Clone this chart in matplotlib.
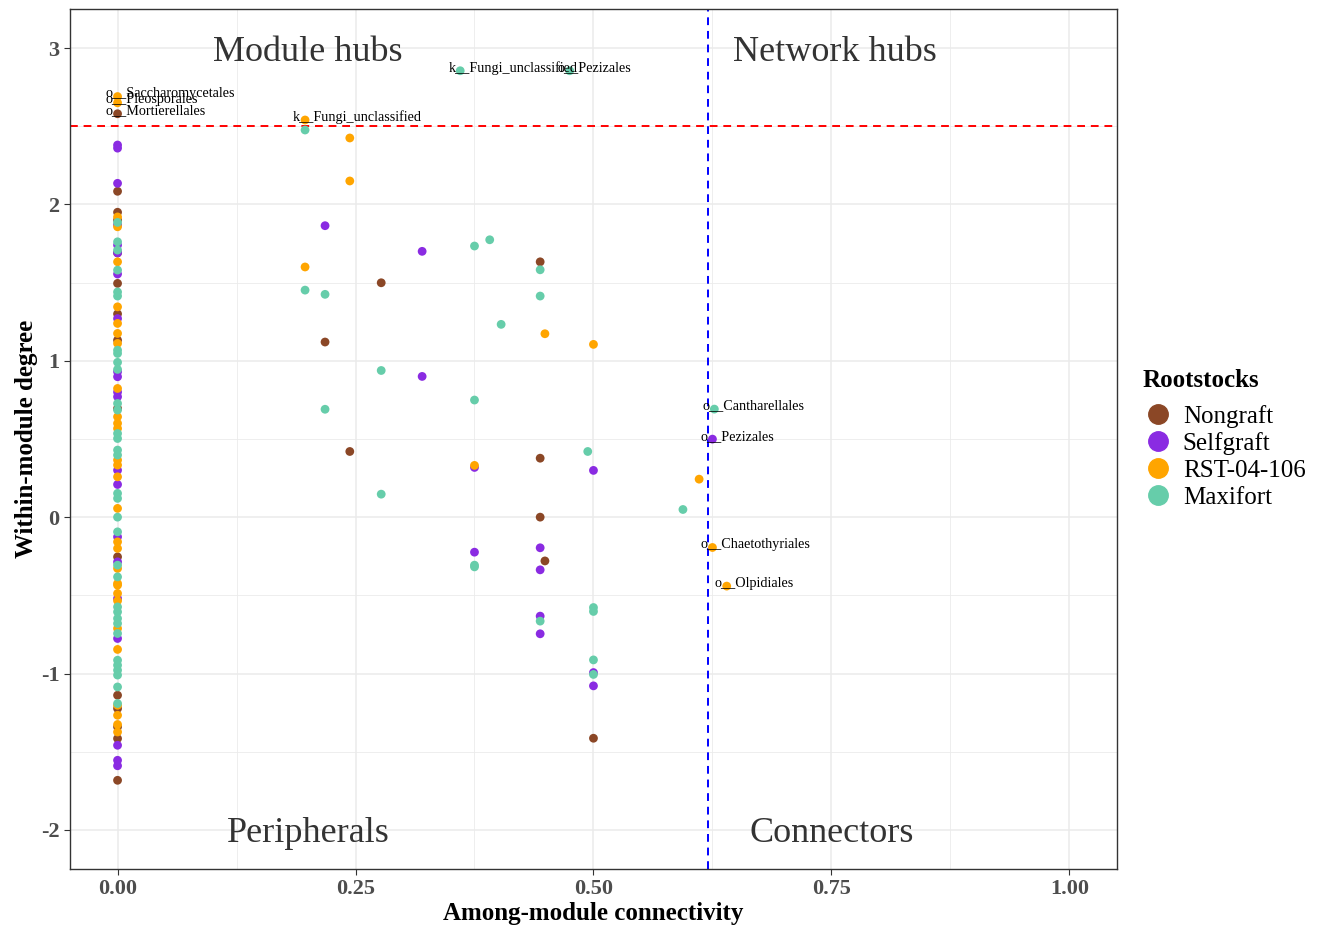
import matplotlib
matplotlib.use('Agg')
import matplotlib.pyplot as plt
from matplotlib.lines import Line2D
from matplotlib.ticker import MultipleLocator

plt.rcParams['font.family'] = ['Liberation Serif', 'DejaVu Serif']

# Among-module connectivity (Pi) / within-module degree (Zi) per rootstock
nongraft_x = [0, 0, 0, 0, 0, 0, 0, 0, 0, 0, 0, 0, 0, 0, 0,
              0.277, 0.218, 0.244, 0.444, 0.444, 0.444, 0.449, 0.5]
nongraft_y = [2.58, 2.084, 1.95, 1.90, 1.495, 1.30, 1.132, 0.695, -0.254, -1.139, -1.224, -1.341, -1.416, -1.683, 1.69,
              1.499, 1.12, 0.42, 1.633, 0.377, 0.0, -0.28, -1.414]

selfgraft_x = [0, 0, 0, 0, 0, 0, 0, 0, 0, 0, 0, 0, 0, 0, 0, 0, 0, 0, 0, 0, 0,
               0.218, 0.32, 0.32, 0.375, 0.375, 0.444, 0.444, 0.444, 0.444, 0.5, 0.5, 0.5, 0.625]
selfgraft_y = [2.38, 2.36, 2.135, 1.87, 1.74, 1.69, 1.555, 1.27, 0.93, 0.898, 0.80, 0.77, 0.30, 0.209, -0.126,
               -0.286, -0.52, -0.776, -1.459, -1.555, -1.59,
               1.864, 1.70, 0.90, 0.318, -0.224, -0.196, -0.337, -0.633, -0.746, 0.299, -0.994, -1.079, 0.499]

rst_x = [0, 0, 0, 0, 0, 0, 0, 0, 0, 0, 0, 0, 0, 0, 0, 0, 0, 0, 0, 0, 0, 0, 0, 0, 0, 0, 0, 0, 0, 0,
         0.197, 0.244, 0.244, 0.197, 0.449, 0.5, 0.375, 0.611, 0.625, 0.64]
rst_y = [2.69, 2.65, 1.92, 1.857, 1.633, 1.345, 1.239, 1.175, 1.111, 0.823, 0.642, 0.60, 0.567, 0.365, 0.333,
         0.258, 0.056, -0.158, -0.2, -0.328, -0.424, -0.435, -0.488, -0.535, -0.712, -0.846, -1.203, -1.267,
         -1.326, -1.374,
         2.54, 2.425, 2.15, 1.60, 1.173, 1.105, 0.331, 0.243, -0.194, -0.441]

maxifort_x = [0] * 33 + [0.197, 0.36, 0.475, 0.218, 0.197, 0.375, 0.391, 0.444, 0.444, 0.403, 0.277, 0.218,
                         0.375, 0.494, 0.277, 0.375, 0.375, 0.444, 0.5, 0.5, 0.5, 0.5, 0.627, 0.594]
maxifort_y = [1.885, 1.761, 1.708, 1.58, 1.44, 1.414, 1.068, 1.047, 0.99, 0.945, 0.727, 0.685, 0.535, 0.503,
              0.429, 0.397, 0.152, 0.12, 0.0, -0.094, -0.307, -0.382, -0.574, -0.606, -0.648, -0.68, -0.744,
              -0.915, -0.947, -0.979, -1.01, -1.086, -1.192,
              2.476, 2.855, 2.855, 1.425, 1.452, 1.734, 1.774, 1.582, 1.414, 1.233, 0.938, 0.69,
              0.749, 0.42, 0.147, -0.307, -0.318, -0.665, -0.578, -0.603, -0.913, -1.006, 0.691, 0.049]

groups = ['Nongraft', 'Selfgraft', 'RST-04-106', 'Maxifort']
colors = ['#8B4726', '#8A2BE2', '#FFA500', '#66CDAA']

# labelled taxa
label_x = [0, 0, 0, 0.197, 0.36, 0.475, 0.627, 0.625, 0.625, 0.64]
label_y = [2.69, 2.65, 2.58, 2.54, 2.855, 2.855, 0.691, 0.499, -0.194, -0.441]
label_txt = ['o__Saccharomycetales', 'o__Pleosporales', 'o__Mortierellales', 'k__Fungi_unclassified',
             'k__Fungi_unclassified', 'o__Pezizales', 'o__Cantharellales', 'o__Pezizales',
             'o__Chaetothyriales', 'o__Olpidiales']

zi_cut = 2.5
pi_cut = 0.62

fig = plt.figure(figsize=(13.25, 9.26), dpi=100)
ax = fig.add_axes([0.0528, 0.0616, 0.7902, 0.9287])

xs = [nongraft_x, selfgraft_x, rst_x, maxifort_x]
ys = [nongraft_y, selfgraft_y, rst_y, maxifort_y]
for gx, gy, c in zip(xs, ys, colors):
    ax.scatter(gx, gy, s=40, color=c, edgecolors='none', zorder=3)

ax.axhline(zi_cut, color='red', linestyle=(0, (4, 3)), linewidth=1.4, zorder=2)
ax.axvline(pi_cut, color='blue', linestyle=(0, (4, 3)), linewidth=1.4, zorder=2)

for lx, ly, t in zip(label_x, label_y, label_txt):
    ax.annotate(t, (lx, ly), xytext=(-12, 3), textcoords='offset pixels',
                ha='left', va='center', fontsize=10.2, color='black', zorder=4)

quad_style = dict(fontsize=26, color='#333333', ha='center', va='center_baseline')
ax.text(0.2, 3, 'Module hubs', **quad_style)
ax.text(0.754, 3, 'Network hubs', **quad_style)
ax.text(0.2, -2, 'Peripherals', **quad_style)
ax.text(0.75, -2, 'Connectors', **quad_style)

ax.set_xlim(-0.05, 1.05)
ax.set_ylim(-2.25, 3.25)
ax.xaxis.set_minor_locator(MultipleLocator(0.125))
ax.yaxis.set_minor_locator(MultipleLocator(0.5))
ax.set_xticks([0, 0.25, 0.5, 0.75, 1.0])
ax.set_xticklabels(['0.00', '0.25', '0.50', '0.75', '1.00'])
ax.set_yticks([-2, -1, 0, 1, 2, 3])
ax.set_yticklabels(['-2', '-1', '0', '1', '2', '3'])
ax.grid(which='major', color='#EBEBEB', linewidth=1.1, zorder=0)
ax.grid(which='minor', color='#EBEBEB', linewidth=0.6, zorder=0)
ax.set_axisbelow(True)
ax.tick_params(which='minor', length=0)
ax.tick_params(which='major', length=4, color='#333333', width=0.8)
for lab in ax.get_xticklabels() + ax.get_yticklabels():
    lab.set_fontsize(16)
    lab.set_fontweight('bold')
    lab.set_color('#4D4D4D')
for sp in ax.spines.values():
    sp.set_color('#333333')
    sp.set_linewidth(1.0)

ax.set_xlabel('Among-module connectivity', fontsize=18, fontweight='bold', labelpad=2)
ax.set_ylabel('Within-module degree', fontsize=18, fontweight='bold', labelpad=2)

handles = [Line2D([], [], marker='o', linestyle='', markersize=14, color=c) for c in colors]
leg = fig.legend(handles, groups, loc='center left', bbox_to_anchor=(0.855, 0.526),
                 frameon=False, prop={'size': 18}, title='Rootstocks',
                 title_fontproperties={'size': 18, 'weight': 'bold'},
                 handletextpad=0.4, labelspacing=0.17, handlelength=1.2, borderaxespad=0)
leg._legend_box.align = 'left'
leg._legend_box.sep = 9

fig.savefig('out.png', dpi=100)
